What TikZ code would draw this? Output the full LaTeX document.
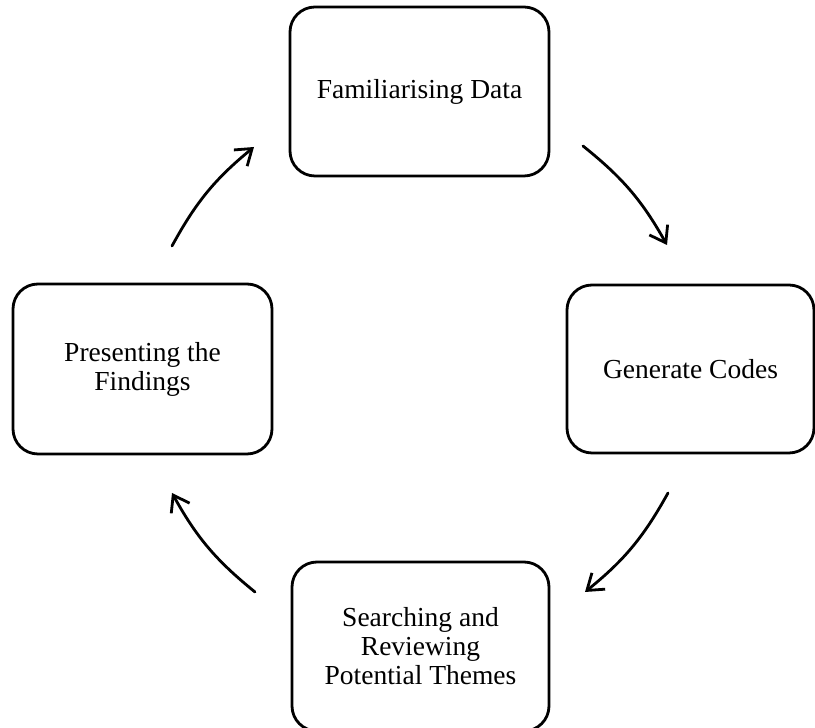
\documentclass[tikz,border=0pt]{standalone}
\usepackage{fontspec}
\setmainfont{Liberation Serif}
\usetikzlibrary{arrows.meta}

\tikzset{
  stage/.style={draw=black, line width=2.8pt, rounded corners=25pt,
    inner sep=0pt, align=center,
    font=\fontsize{27.5pt}{29pt}\selectfont},
  cyclearrow/.style={line width=2.8pt, line cap=round,
    -{Straight Barb[length=15pt, width=21pt, line width=2.8pt]},
    bend left=11}
}

\begin{document}
\begin{tikzpicture}[x=1pt, y=1pt]
  \useasboundingbox (0,0) rectangle (815,728);

  % the four stages of the cycle
  \node[stage, minimum width=259pt, minimum height=169pt] (fam) at (419.5,636.5) {Familiarising Data};
  \node[stage, minimum width=247pt, minimum height=168pt] (gen) at (690.5,359) {Generate Codes};
  \node[stage, minimum width=257pt, minimum height=169pt] (search) at (420.5,81.5) {Searching and\\Reviewing\\Potential Themes};
  \node[stage, minimum width=259pt, minimum height=170pt] (pres) at (142.5,359) {Presenting the\\Findings};

  % free ends of the curved arrows between stages
  \coordinate (famOut)    at (583,582);
  \coordinate (genIn)     at (667,483);
  \coordinate (genOut)    at (668,235);
  \coordinate (searchIn)  at (585,136);
  \coordinate (searchOut) at (255,136);
  \coordinate (presIn)    at (172,235);
  \coordinate (presOut)   at (172,482);
  \coordinate (famIn)     at (254,581);

  \draw[cyclearrow] (famOut) to (genIn);
  \draw[cyclearrow] (genOut) to (searchIn);
  \draw[cyclearrow] (searchOut) to (presIn);
  \draw[cyclearrow] (presOut) to (famIn);
\end{tikzpicture}
\end{document}
